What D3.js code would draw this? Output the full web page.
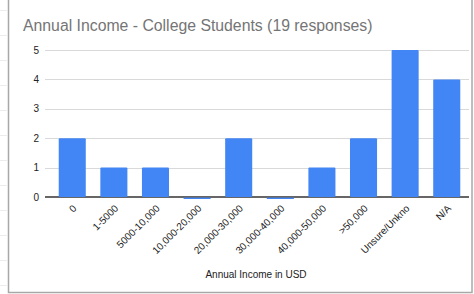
<!DOCTYPE html>
<html>
<head>
<meta charset="utf-8">
<script src="https://cdn.jsdelivr.net/npm/d3@7"></script>
<style>
  body { margin: 0; background: #fff; }
  text { font-family: Arial, "Liberation Sans", sans-serif; }
</style>
</head>
<body>
<div id="chart"></div>
<script>
var categories = ['0', '1-5000', '5000-10,000', '10,000-20,000', '20,000-30,000',
  '30,000-40,000', '40,000-50,000', '>50,000', 'Unsure/Unkno', 'N/A'];
var counts = [2, 1, 1, 0, 2, 0, 1, 2, 5, 4];
var yTicks = [0, 1, 2, 3, 4, 5];

var full_width = 474, full_height = 294;
var margin = {top: 50, bottom: 97, left: 45, right: 6};
var width = full_width - margin.left - margin.right,
  height = full_height - margin.top - margin.bottom;

var svg = d3.select('#chart').append('svg')
  .attr('width', full_width)
  .attr('height', full_height);

// spreadsheet frame
svg.append('rect')
  .attr('x', 8.5).attr('y', -2)
  .attr('width', 463.5).attr('height', 294.5)
  .attr('fill', 'none')
  .attr('stroke', '#a8a8a8')
  .attr('stroke-width', 1.5);

svg.selectAll('.rowtick')
  .data(d3.range(0, 294, 25))
  .enter().append('line')
  .attr('x1', 0).attr('x2', 7)
  .attr('y1', function(d) { return d + 10.5; })
  .attr('y2', function(d) { return d + 10.5; })
  .attr('stroke', '#ececec');

svg.append('text')
  .attr('x', 23).attr('y', 31)
  .attr('font-size', 15.8)
  .attr('fill', '#757575')
  .text('Annual Income - College Students (19 responses)');

var g = svg.append('g')
  .attr('transform', 'translate(' + margin.left + ',' + margin.top + ')');

var x = d3.scaleBand()
  .domain(categories)
  .range([0, width + 6])
  .paddingInner(0.35)
  .paddingOuter(0.33);

var y = d3.scaleLinear()
  .domain([0, 5])
  .range([height, 0]);

g.selectAll('.grid')
  .data(yTicks.slice(1))
  .enter().append('line')
  .attr('x1', 0).attr('x2', width + 1)
  .attr('y1', function(d) { return Math.round(y(d)) + 0.5; })
  .attr('y2', function(d) { return Math.round(y(d)) + 0.5; })
  .attr('stroke', '#d9d9d9');

g.selectAll('.ylab')
  .data(yTicks)
  .enter().append('text')
  .attr('x', -6)
  .attr('y', function(d) { return y(d) + 3.5; })
  .attr('text-anchor', 'end')
  .attr('font-size', 10)
  .attr('fill', '#222')
  .text(function(d) { return d; });

g.append('line')
  .attr('x1', 0).attr('x2', width + 1)
  .attr('y1', height).attr('y2', height)
  .attr('stroke', '#333')
  .attr('stroke-width', 1.3);

g.selectAll('.bar')
  .data(counts)
  .enter().append('rect')
  .attr('x', function(d, i) { return x(categories[i]); })
  .attr('y', function(d) { return d > 0 ? y(d) : y(0) + 0.6; })
  .attr('width', x.bandwidth())
  .attr('height', function(d) { return d > 0 ? height - y(d) : 1.4; })
  .attr('rx', function(d) { return d > 0 ? 1 : 0; })
  .attr('fill', '#4285f4');

g.selectAll('.xlab')
  .data(categories)
  .enter().append('text')
  .attr('text-anchor', 'end')
  .attr('font-size', 10)
  .attr('fill', '#222')
  .attr('transform', function(d) {
    var cx = x(d) + x.bandwidth() / 2 + 5;
    return 'translate(' + cx + ',' + (height + 12) + ') rotate(-45)';
  })
  .text(function(d) { return d; });

svg.append('text')
  .attr('x', 256).attr('y', 278)
  .attr('text-anchor', 'middle')
  .attr('font-size', 10)
  .attr('fill', '#222')
  .text('Annual Income in USD');
</script>
</body>
</html>
